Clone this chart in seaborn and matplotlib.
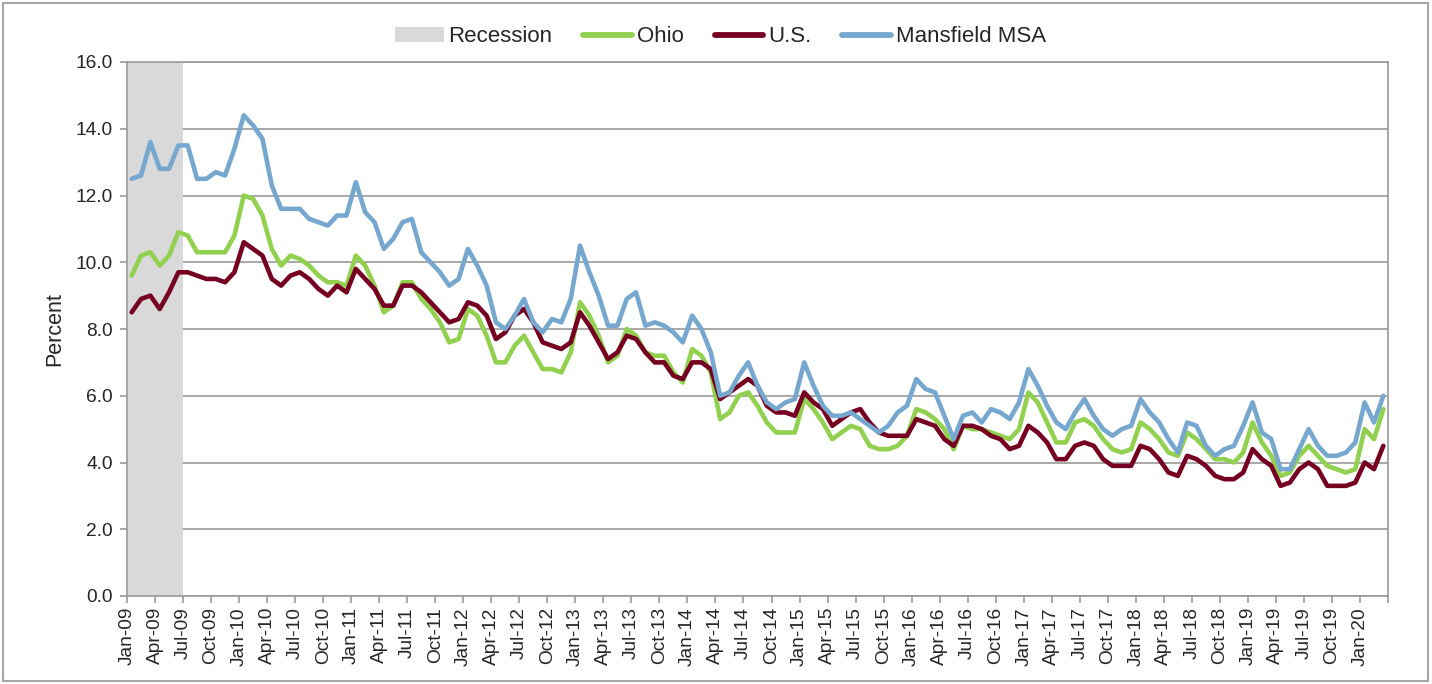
import numpy as np
import pandas as pd
import seaborn as sns
import matplotlib
matplotlib.use("Agg")
import matplotlib.pyplot as plt
from matplotlib.patches import Patch, Rectangle

# monthly unemployment rate, Jan-09 .. Mar-20 (percent)
mansfield = [
    12.5, 12.6, 13.6, 12.8, 12.8, 13.5, 13.5, 12.5, 12.5, 12.7, 12.6, 13.4,
    14.4, 14.1, 13.7, 12.3, 11.6, 11.6, 11.6, 11.3, 11.2, 11.1, 11.4, 11.4,
    12.4, 11.5, 11.2, 10.4, 10.7, 11.2, 11.3, 10.3, 10.0, 9.7, 9.3, 9.5,
    10.4, 9.9, 9.3, 8.2, 8.0, 8.4, 8.9, 8.2, 7.9, 8.3, 8.2, 8.9,
    10.5, 9.7, 9.0, 8.1, 8.1, 8.9, 9.1, 8.1, 8.2, 8.1, 7.9, 7.6,
    8.4, 8.0, 7.3, 6.0, 6.1, 6.6, 7.0, 6.3, 5.8, 5.6, 5.8, 5.9,
    7.0, 6.3, 5.7, 5.4, 5.4, 5.5, 5.3, 5.1, 4.9, 5.1, 5.5, 5.7,
    6.5, 6.2, 6.1, 5.4, 4.7, 5.4, 5.5, 5.2, 5.6, 5.5, 5.3, 5.8,
    6.8, 6.3, 5.7, 5.2, 5.0, 5.5, 5.9, 5.4, 5.0, 4.8, 5.0, 5.1,
    5.9, 5.5, 5.2, 4.7, 4.3, 5.2, 5.1, 4.5, 4.2, 4.4, 4.5, 5.1,
    5.8, 4.9, 4.7, 3.8, 3.8, 4.4, 5.0, 4.5, 4.2, 4.2, 4.3, 4.6,
    5.8, 5.2, 6.0,
]
ohio = [
    9.6, 10.2, 10.3, 9.9, 10.2, 10.9, 10.8, 10.3, 10.3, 10.3, 10.3, 10.8,
    12.0, 11.9, 11.4, 10.4, 9.9, 10.2, 10.1, 9.9, 9.6, 9.4, 9.4, 9.3,
    10.2, 9.9, 9.3, 8.5, 8.7, 9.4, 9.4, 8.9, 8.6, 8.2, 7.6, 7.7,
    8.6, 8.4, 7.8, 7.0, 7.0, 7.5, 7.8, 7.3, 6.8, 6.8, 6.7, 7.3,
    8.8, 8.4, 7.8, 7.0, 7.2, 8.0, 7.8, 7.3, 7.2, 7.2, 6.7, 6.4,
    7.4, 7.2, 6.7, 5.3, 5.5, 6.0, 6.1, 5.7, 5.2, 4.9, 4.9, 4.9,
    5.9, 5.6, 5.2, 4.7, 4.9, 5.1, 5.0, 4.5, 4.4, 4.4, 4.5, 4.8,
    5.6, 5.5, 5.3, 5.0, 4.4, 5.1, 5.0, 5.0, 4.9, 4.8, 4.7, 5.0,
    6.1, 5.8, 5.2, 4.6, 4.6, 5.2, 5.3, 5.1, 4.7, 4.4, 4.3, 4.4,
    5.2, 5.0, 4.7, 4.3, 4.2, 4.9, 4.7, 4.4, 4.1, 4.1, 4.0, 4.3,
    5.2, 4.6, 4.2, 3.6, 3.7, 4.2, 4.5, 4.2, 3.9, 3.8, 3.7, 3.8,
    5.0, 4.7, 5.6,
]
us = [
    8.5, 8.9, 9.0, 8.6, 9.1, 9.7, 9.7, 9.6, 9.5, 9.5, 9.4, 9.7,
    10.6, 10.4, 10.2, 9.5, 9.3, 9.6, 9.7, 9.5, 9.2, 9.0, 9.3, 9.1,
    9.8, 9.5, 9.2, 8.7, 8.7, 9.3, 9.3, 9.1, 8.8, 8.5, 8.2, 8.3,
    8.8, 8.7, 8.4, 7.7, 7.9, 8.4, 8.6, 8.2, 7.6, 7.5, 7.4, 7.6,
    8.5, 8.1, 7.6, 7.1, 7.3, 7.8, 7.7, 7.3, 7.0, 7.0, 6.6, 6.5,
    7.0, 7.0, 6.8, 5.9, 6.1, 6.3, 6.5, 6.3, 5.7, 5.5, 5.5, 5.4,
    6.1, 5.8, 5.6, 5.1, 5.3, 5.5, 5.6, 5.2, 4.9, 4.8, 4.8, 4.8,
    5.3, 5.2, 5.1, 4.7, 4.5, 5.1, 5.1, 5.0, 4.8, 4.7, 4.4, 4.5,
    5.1, 4.9, 4.6, 4.1, 4.1, 4.5, 4.6, 4.5, 4.1, 3.9, 3.9, 3.9,
    4.5, 4.4, 4.1, 3.7, 3.6, 4.2, 4.1, 3.9, 3.6, 3.5, 3.5, 3.7,
    4.4, 4.1, 3.9, 3.3, 3.4, 3.8, 4.0, 3.8, 3.3, 3.3, 3.3, 3.4,
    4.0, 3.8, 4.5,
]
n = len(us)
recession = [1] * 6 + [0] * (n - 6)   # Jan-09 .. Jun-09
months = pd.date_range("2009-01-01", periods=n + 1, freq="MS").strftime("%b-%y").tolist()

series_names = ["Ohio", "U.S.", "Mansfield MSA"]
colors = {"Ohio": "#92D050", "U.S.": "#760021", "Mansfield MSA": "#75A7CF"}

pos = np.arange(n) + 0.5
df = pd.concat([
    pd.DataFrame({"x": pos, "rate": ohio, "series": "Ohio"}),
    pd.DataFrame({"x": pos, "rate": us, "series": "U.S."}),
    pd.DataFrame({"x": pos, "rate": mansfield, "series": "Mansfield MSA"}),
])

sns.set_style("white")
plt.rcParams["font.family"] = ["Liberation Sans", "DejaVu Sans"]

fig = plt.figure(figsize=(14.32, 6.84), dpi=100)
ax = fig.add_axes([127 / 1432, 1 - 596 / 684, (1388 - 127) / 1432, (596 - 62) / 684])

ax.bar(np.arange(n), np.array(recession) * 16.0, width=1.0, align="edge",
       color="#D9D9D9", linewidth=0, zorder=1)

sns.lineplot(data=df, x="x", y="rate", hue="series", hue_order=series_names,
             palette=colors, linewidth=3.3, legend=False, ax=ax, zorder=3)

ax.set_xlim(0, n)
ax.set_ylim(0, 16)
ax.set_yticks(np.arange(0, 17, 2))
ax.set_yticklabels([f"{v:.1f}" for v in np.arange(0, 17, 2)], fontsize=13.8)
xt = list(range(0, n + 1, 3))
ax.set_xticks(xt)
ax.set_xticklabels([months[i] if i < n - 2 else "" for i in xt], rotation=90, fontsize=13.8)
ax.tick_params(axis="both", direction="out", length=5, width=1.2, color="#9A9A9A",
               left=True, bottom=True, pad=3)
ax.tick_params(axis="y", pad=5)
ax.set_xlabel("")
ax.set_ylabel("Percent", fontsize=15.5, labelpad=8)

ax.yaxis.grid(True, color="#9A9A9A", linewidth=1.2, zorder=0)
ax.xaxis.grid(False)
ax.set_axisbelow(True)
for s in ax.spines.values():
    s.set_color("#9A9A9A")
    s.set_linewidth(1.2)

handles = [Patch(facecolor="#D9D9D9", edgecolor="none")] + [
    plt.Line2D([], [], color=colors[s], linewidth=4.2, solid_capstyle="round") for s in series_names]
fig.legend(handles, ["Recession"] + series_names, loc="center", bbox_to_anchor=(0.503, 0.946),
           ncol=4, frameon=False, fontsize=16, handlelength=2.2, handletextpad=0.2,
           columnspacing=1.4, handleheight=0.65)

fig.add_artist(Rectangle((0.002, 0.004), 0.995, 0.992, transform=fig.transFigure,
                         fill=False, edgecolor="#A6A6A6", linewidth=1.5))

fig.savefig("out.png", dpi=100)
